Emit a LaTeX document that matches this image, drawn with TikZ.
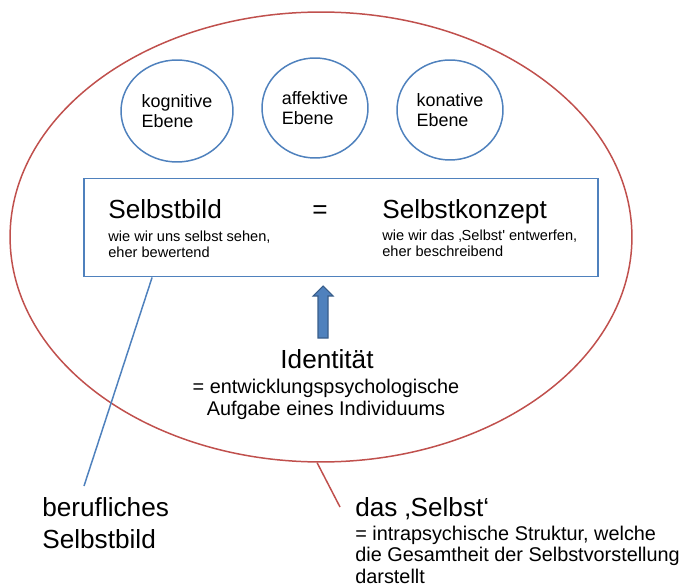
\documentclass[tikz,border=0pt]{standalone}
\usepackage{fontspec}
\setmainfont{Liberation Sans}
\usetikzlibrary{shapes.geometric,calc}
\definecolor{officeblau}{HTML}{4F81BD}
\definecolor{officerot}{HTML}{C0504D}
\definecolor{blaurand}{HTML}{385D8A}
\begin{document}
\begin{tikzpicture}[x={(0.02cm,0)},y={(0,-0.02cm)},
	ebene/.style={ellipse,draw=officeblau,line width=0.85pt,minimum width=2.12cm,minimum height=2cm,inner sep=0pt,align=left,font=\fontsize{10.2pt}{11.3pt}\selectfont},
	gross/.style={inner sep=0pt,font=\fontsize{14.9pt}{18.1pt}\selectfont},
	klein/.style={inner sep=0pt,align=left,font=\fontsize{8.3pt}{9.1pt}\selectfont},
	mittel/.style={inner sep=0pt,font=\fontsize{11.3pt}{12.4pt}\selectfont}]
	\useasboundingbox (0,0) rectangle (685,587);
	% das Selbst
	\node[ellipse,draw=officerot,line width=0.85pt,minimum width=12.44cm,minimum height=9cm,inner sep=0pt] (selbst) at (321,237) {};
	% die drei Ebenen
	\node[ebene,minimum width=2.24cm,minimum height=2.04cm] (kog) at (177,111) {kognitive\\Ebene};
	\node[ebene] (aff) at (315,108) {affektive\\Ebene};
	\node[ebene] (kon) at (450,110) {konative\\Ebene};
	% Selbstbild = Selbstkonzept
	\node[draw=officeblau,line width=1.1pt,minimum width=10.28cm,minimum height=1.96cm,inner sep=0pt] (box) at (341,227.5) {};
	\node[gross,anchor=base west] (bild) at (108,218) {Selbstbild};
	\node[klein,anchor=base west] (bildtext) at (108,257) {wie wir uns selbst sehen,\\eher bewertend};
	\node[gross,anchor=base] (gleich) at (320,218) {=};
	\node[gross,anchor=base west] (konzept) at (382,218) {Selbstkonzept};
	\node[klein,anchor=base west] (konzepttext) at (382,256) {wie wir das ‚Selbst\textquotesingle{} entwerfen,\\eher beschreibend};
	% Identitaet
	\filldraw[fill=officeblau,draw=blaurand,line width=0.6pt] (318,338) -- (318,296) -- (313,296) -- (323,286) -- (333,296) -- (328,296) -- (328,338) -- cycle;
	\node[gross,anchor=base] (ident) at (327,368) {Identität};
	\node[mittel,align=center,anchor=base] (identtext) at (326,415) {= entwicklungspsychologische\\Aufgabe eines Individuums};
	% Beschriftungen unten
	\coordinate (bildend) at (84,486);
	\coordinate (selbstend) at (340,507);
	\draw[officeblau,line width=0.85pt] ($(box.south west)+(69,0)$) -- (bildend);
	\draw[officerot,line width=0.85pt] (selbst.-91) -- (selbstend);
	\node[gross,align=left,anchor=base west] (beruf) at (42,548) {berufliches\\Selbstbild};
	\node[gross,anchor=base west] (selbsttitel) at (355,516) {das ‚Selbst‘};
	\node[mittel,align=left,anchor=base west,font=\fontsize{11.3pt}{12.2pt}\selectfont] (selbsttext) at (355,583) {= intrapsychische Struktur, welche\\die Gesamtheit der Selbstvorstellung\\darstellt};
\end{tikzpicture}
\end{document}
